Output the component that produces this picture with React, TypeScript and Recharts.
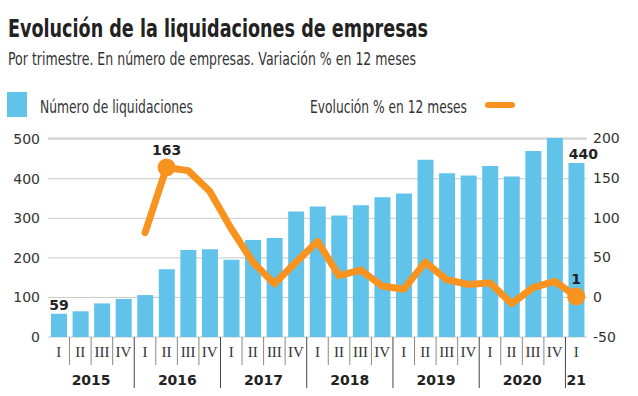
import { ComposedChart, Bar, Line, XAxis, YAxis, CartesianGrid, ReferenceLine, LabelList } from 'recharts';

const quarterLabels = ['I', 'II', 'III', 'IV', 'I', 'II', 'III', 'IV', 'I', 'II', 'III', 'IV', 'I', 'II', 'III', 'IV', 'I', 'II', 'III', 'IV', 'I', 'II', 'III', 'IV', 'I'];
const yearLabels = ['2015', '2016', '2017', '2018', '2019', '2020', '21'];
const liquidaciones = [59, 65, 85, 96, 106, 171, 220, 222, 195, 245, 250, 317, 330, 307, 333, 353, 363, 448, 414, 408, 432, 406, 470, 503, 440];
const evolucion = [null, null, null, null, 81, 163, 159, 133, 86, 44, 17, 44, 70, 27, 34, 14, 10, 44, 22, 16, 18, -8, 12, 20, 1];
const labeledBars = [0, 24];
const labeledPoints = [5, 24];
// the 0 % line starts where the series starts (2016 I)
const zeroLineFrom = 4;

const data = quarterLabels.map((q, i) => ({
  id: i,
  q,
  year: yearLabels[Math.floor(i / 4)],
  liq: liquidaciones[i],
  evo: evolucion[i],
}));

const BLUE = '#62C3EA';
const ORANGE = '#F7931E';
const SANS = "'DejaVu Sans', sans-serif";

const QuarterTick = (props: any) => {
  const { x, y, payload, index } = props;
  const half = payload.offset || 10.8;
  const d = data[index];
  const left = x - half;
  const isYearStart = d.q === 'I';
  const showYear = d.q === 'II' || d.year === '21';
  return (
    <g>
      <text x={x} y={y + 20} textAnchor="middle" fontFamily="'Liberation Serif', serif" fontSize={15} fill="#333">
        {d.q}
      </text>
      {index > 0 && (
        <line x1={left} x2={left} y1={y} y2={isYearStart ? y + 51 : y + 28} stroke={isYearStart ? '#444' : '#888'} strokeWidth={1} />
      )}
      {showYear && (
        <text x={d.year === '21' ? x : x + half} y={y + 48} textAnchor="middle" fontFamily={SANS} fontWeight="bold" fontSize={14} fill="#222">
          {d.year}
        </text>
      )}
    </g>
  );
};

const BarLabel = (props: any) => {
  const { x, y, width, value, index } = props;
  if (!labeledBars.includes(index)) return null;
  const last = index === data.length - 1;
  return (
    <text x={x + width / 2 + (last ? 7 : 0)} y={y - 4} textAnchor="middle" fontFamily={SANS} fontWeight="bold" fontSize={14} fill="#222">
      {value}
    </text>
  );
};

const PointLabel = (props: any) => {
  const { x, y, value, index } = props;
  if (!labeledPoints.includes(index)) return null;
  return (
    <text x={x} y={y - 12} textAnchor="middle" fontFamily={SANS} fontWeight="bold" fontSize={14} fill="#222">
      {value}
    </text>
  );
};

const PointDot = (props: any) => {
  const { cx, cy, index } = props;
  if (!labeledPoints.includes(index) || cy == null) return <g key={index} />;
  return <circle key={index} cx={cx} cy={cy} r={9} fill={ORANGE} />;
};

const Header = () => (
  <svg width={638} height={130} style={{ position: 'absolute', left: 0, top: 0 }}>
    <text x={8} y={37} fontFamily={SANS} fontWeight="bold" fontSize={24} fill="#222" textLength={420} lengthAdjust="spacingAndGlyphs">
      Evolución de la liquidaciones de empresas
    </text>
    <text x={8} y={65} fontFamily={SANS} fontSize={17} fill="#333" textLength={408} lengthAdjust="spacingAndGlyphs">
      Por trimestre. En número de empresas. Variación % en 12 meses
    </text>
    <rect x={7} y={92} width={20} height={25} fill={BLUE} />
    <text x={40} y={113} fontFamily={SANS} fontSize={17} fill="#333" textLength={153} lengthAdjust="spacingAndGlyphs">
      Número de liquidaciones
    </text>
    <text x={310} y={113} fontFamily={SANS} fontSize={17} fill="#333" textLength={157} lengthAdjust="spacingAndGlyphs">
      Evolución % en 12 meses
    </text>
    <line x1={488} x2={512} y1={105} y2={105} stroke={ORANGE} strokeWidth={6} strokeLinecap="round" />
  </svg>
);

const App = () => {
  return (
    <div style={{ position: 'absolute', left: 0, top: 0, width: 638, height: 396, background: '#fff' }}>
      <Header />
      <div style={{ position: 'absolute', left: 0, top: 0 }}>
        <ComposedChart width={638} height={396} data={data} margin={{ top: 138, right: 0, left: 0, bottom: 0 }} barCategoryGap="14%">
          <CartesianGrid vertical={false} stroke="#c8c8c8" yAxisId="left" />
          <XAxis dataKey="id" height={59} tick={<QuarterTick />} tickLine={false} axisLine={false} tickSize={0} tickMargin={0} interval={0} />
          <XAxis xAxisId="edges" type="number" domain={[0, data.length]} hide />
          <YAxis
            yAxisId="left"
            width={48}
            domain={[0, 500]}
            ticks={[0, 100, 200, 300, 400, 500]}
            tickLine={false}
            axisLine={false}
            tickMargin={2}
            tick={{ fontSize: 14, fill: '#333', fontFamily: SANS }}
          />
          <YAxis
            yAxisId="right"
            orientation="right"
            width={51}
            domain={[-50, 200]}
            ticks={[-50, 0, 50, 100, 150, 200]}
            tickLine={false}
            axisLine={false}
            tickMargin={0}
            tick={{ fontSize: 14, fill: '#333', fontFamily: SANS, textAnchor: 'start' }}
          />
          <Bar yAxisId="left" dataKey="liq" fill={BLUE} isAnimationActive={false}>
            <LabelList dataKey="liq" content={<BarLabel />} />
          </Bar>
          <ReferenceLine
            xAxisId="edges"
            yAxisId="right"
            segment={[{ x: zeroLineFrom, y: 0 }, { x: data.length, y: 0 }]}
            stroke="#111"
            strokeWidth={1}
          />
          <Line
            yAxisId="right"
            dataKey="evo"
            type="linear"
            stroke={ORANGE}
            strokeWidth={7}
            strokeLinejoin="round"
            strokeLinecap="round"
            dot={PointDot}
            activeDot={false}
            isAnimationActive={false}
          >
            <LabelList dataKey="evo" content={<PointLabel />} />
          </Line>
        </ComposedChart>
      </div>
    </div>
  );
};

export default App;
